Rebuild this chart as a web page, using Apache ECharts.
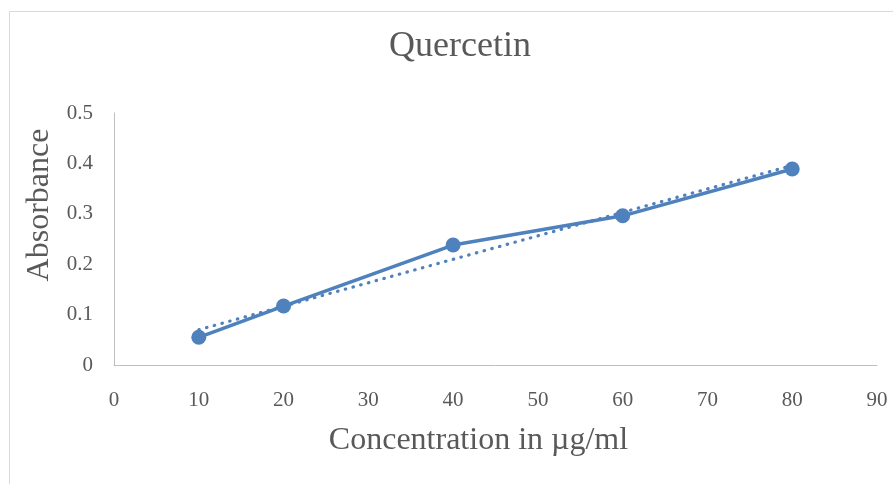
<!DOCTYPE html>
<html><head><meta charset="utf-8">
<script src="https://cdn.jsdelivr.net/npm/echarts@6/dist/echarts.min.js"></script>
<style>html,body{margin:0;padding:0;background:#fff}#c{width:893px;height:484px}</style>
</head><body><div id="c"></div>
<script>
const concentrations = [10, 20, 40, 60, 80];
const absorbance = [0.055, 0.117, 0.238, 0.296, 0.389];
const trendX = [10, 80];
const trendY = [0.070, 0.396];
const xTicks = [0, 10, 20, 30, 40, 50, 60, 70, 80, 90];
const yTicks = [0, 0.1, 0.2, 0.3, 0.4, 0.5];

const font = '"Liberation Serif", "Times New Roman", serif';
const chart = echarts.init(document.getElementById('c'), null, {renderer: 'canvas'});
chart.setOption({
  animation: false,
  backgroundColor: '#fff',
  graphic: [{type: 'rect', shape: {x: 9.5, y: 11.5, width: 900, height: 500},
    style: {fill: 'none', stroke: '#d9d9d9', lineWidth: 1}, z: -10}],
  title: {text: 'Quercetin', left: 384, top: 24,
    textStyle: {fontFamily: font, fontSize: 36, fontWeight: 'normal', color: '#595959'}},
  grid: {left: 114, right: 16, top: 113, bottom: 119},
  xAxis: {type: 'value', min: xTicks[0], max: xTicks[xTicks.length - 1], interval: 10,
    name: 'Concentration in µg/ml', nameLocation: 'middle', nameGap: 60,
    nameTextStyle: {fontFamily: font, fontSize: 32, color: '#595959', padding: [0, 34, 0, 0]},
    axisLine: {show: true, lineStyle: {color: '#bfbfbf', width: 1}},
    axisTick: {show: false}, splitLine: {show: false},
    axisLabel: {fontFamily: font, fontSize: 21, color: '#595959', margin: 25}},
  yAxis: {type: 'value', min: yTicks[0], max: yTicks[yTicks.length - 1], interval: 0.1,
    name: 'Absorbance', nameLocation: 'middle', nameGap: 58, nameRotate: 90,
    nameTextStyle: {fontFamily: font, fontSize: 32, color: '#595959', padding: [0, 0, 0, 68]},
    axisLine: {show: true, lineStyle: {color: '#bfbfbf', width: 1}},
    axisTick: {show: false}, splitLine: {show: false},
    axisLabel: {fontFamily: font, fontSize: 21, color: '#595959', margin: 21,
      formatter: v => String(+v.toFixed(1))}},
  series: [
    {type: 'line', data: trendX.map((x, i) => [x, trendY[i]]), symbol: 'none',
      lineStyle: {color: '#4f81bd', width: 3.2, type: [0.5, 7.5], cap: 'round'}, z: 1},
    {type: 'line', data: concentrations.map((x, i) => [x, absorbance[i]]),
      symbol: 'circle', symbolSize: 15,
      itemStyle: {color: '#4f81bd'},
      lineStyle: {color: '#4f81bd', width: 3.5}, z: 2}
  ]
});
</script></body></html>
